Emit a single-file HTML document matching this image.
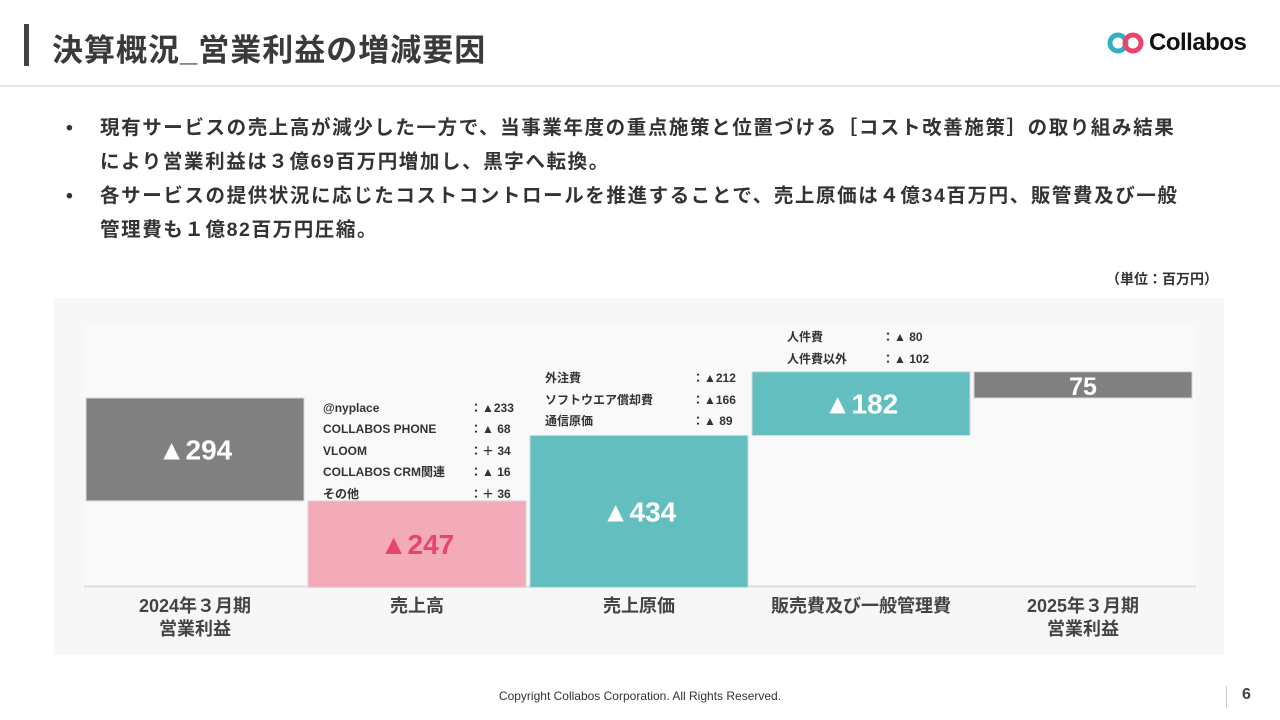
<!DOCTYPE html>
<html><head><meta charset="utf-8">
<style>
body{margin:0;width:1280px;height:720px;background:#fff;font-family:"Liberation Sans","Noto Sans CJK JP",sans-serif;overflow:hidden;position:relative;color:#333}
.abs{position:absolute}
.title{left:52px;top:25px;font-size:31px;font-weight:bold;color:#3a3a3a;letter-spacing:1px}
.bullets{left:66px;top:111px;font-size:19.5px;font-weight:bold;color:#333;line-height:34px;letter-spacing:1.6px;white-space:nowrap}
.bullets div{position:relative;padding-left:34px}
.bullets div:before{content:"•";position:absolute;left:0;top:0}
</style></head><body>
<div class="abs" style="left:24px;top:24px;width:5px;height:42px;background:#444"></div>
<div class="abs title">決算概況_営業利益の増減要因</div>
<div class="abs" style="left:1106px;top:30px;width:160px;height:28px">
<svg width="44" height="28"><circle cx="12" cy="13" r="8" fill="none" stroke="#2fb0c4" stroke-width="5"/><circle cx="27" cy="13" r="8" fill="none" stroke="#e8456b" stroke-width="5"/></svg>
<span class="abs" style="left:43px;top:-1px;font-size:24px;font-weight:bold;color:#111;letter-spacing:-0.5px">Collabos</span></div>
<div class="abs" style="left:0;top:85px;width:1280px;height:2px;background:#e6e6e6"></div>
<div class="abs bullets">
<div>現有サービスの売上高が減少した一方で、当事業年度の重点施策と位置づける［コスト改善施策］の取り組み結果<br>により営業利益は３億69百万円増加し、黒字へ転換。</div>
<div>各サービスの提供状況に応じたコストコントロールを推進することで、売上原価は４億34百万円、販管費及び一般<br>管理費も１億82百万円圧縮。</div>
</div>
<div class="abs" style="left:1106px;top:269px;font-size:14px;font-weight:bold">（単位：百万円）</div>
<svg class="abs" style="left:0;top:0" width="1280" height="720" id="chart">
<rect x="54" y="298" width="1170" height="357" fill="#f7f7f7"/>
<rect x="84" y="323" width="1112" height="263" fill="#f9f9f9"/>
<line x1="84" y1="586.5" x2="1196" y2="586.5" stroke="#ddd" stroke-width="2"/>
<g id="bars"></g>
<g font-size="12" font-weight="bold" fill="#333">
<g>
<text x="323" y="412">@nyplace</text><text x="470" y="412">：▲233</text>
<text x="323" y="433">COLLABOS PHONE</text><text x="470" y="433">：▲ 68</text>
<text x="323" y="455">VLOOM</text><text x="470" y="455">：＋ 34</text>
<text x="323" y="476">COLLABOS CRM関連</text><text x="470" y="476">：▲ 16</text>
<text x="323" y="498">その他</text><text x="470" y="498">：＋ 36</text></g>
<g>
<text x="545" y="382">外注費</text><text x="692" y="382">：▲212</text>
<text x="545" y="404">ソフトウエア償却費</text><text x="692" y="404">：▲166</text>
<text x="545" y="425">通信原価</text><text x="692" y="425">：▲ 89</text></g>
<g>
<text x="787" y="341">人件費</text><text x="882" y="341">：▲ 80</text>
<text x="787" y="363">人件費以外</text><text x="882" y="363">：▲ 102</text></g>
</g>
<g id="xlabels" font-size="18" font-weight="bold" fill="#444" text-anchor="middle"></g>
</svg>
<div class="abs" style="left:0;width:1280px;top:689px;text-align:center;font-size:12px;color:#333">Copyright Collabos Corporation. All Rights Reserved.</div>
<div class="abs" style="left:1226px;top:686px;width:1px;height:22px;background:#ccc"></div>
<div class="abs" style="left:1242px;top:686px;font-size:16px;font-weight:bold;color:#444">6</div>
<script>
const categories=["2024年３月期\n営業利益","売上高","売上原価","販売費及び一般管理費","2025年３月期\n営業利益"];
const deltas=[-294,-247,434,182,75];
const valueLabels=["▲294","▲247","▲434","▲182","75"];
const kinds=["total","delta","delta","delta","total"];
const fills=["#808080","#f4abb9","#63bec0","#63bec0","#808080"];
const textColors=["#fff","#e8456b","#fff","#fff","#fff"];
const NS="http://www.w3.org/2000/svg";
const y0=398,k=0.35;
function yScale(v){return y0-v*k;}
function xScale(i){return 86+i*222;}
const bw=218;
const bars=document.getElementById('bars'),xl=document.getElementById('xlabels');
let cum=0;
for(let i=0;i<deltas.length;i++){
  let a,b;
  if(kinds[i]==="total"){a=0;b=deltas[i];cum=deltas[i];}
  else{a=cum;b=cum+deltas[i];cum=b;}
  const top=Math.min(yScale(a),yScale(b)),h=Math.abs(yScale(a)-yScale(b));
  const r=document.createElementNS(NS,'rect');
  r.setAttribute('x',xScale(i));r.setAttribute('y',top);r.setAttribute('width',bw);r.setAttribute('height',h);
  r.setAttribute('fill',fills[i]);r.setAttribute('stroke','#d8d8d8');r.setAttribute('stroke-width','1');
  
  
  bars.appendChild(r);
  const t=document.createElementNS(NS,'text');
  t.setAttribute('x',xScale(i)+bw/2);t.setAttribute('y',top+h/2+10);
  t.setAttribute('text-anchor','middle');t.setAttribute('font-size',h<40?'25':'28');t.setAttribute('font-weight','bold');
  t.setAttribute('fill',textColors[i]);t.textContent=valueLabels[i];
  
  
  bars.appendChild(t);
  const lines=categories[i].split("\n");
  lines.forEach((ln,j)=>{
    const c=document.createElementNS(NS,'text');
    c.setAttribute('x',xScale(i)+bw/2);c.setAttribute('y',612+j*23);c.textContent=ln;
    
    
    xl.appendChild(c);
  });
}
</script>
</body></html>
